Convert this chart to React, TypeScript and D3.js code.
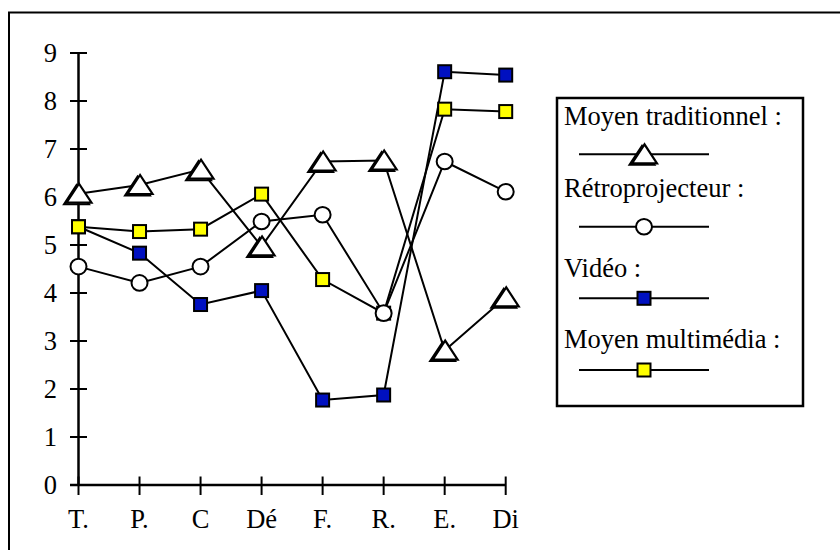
import React from "react";
import * as d3 from "d3";

const categories = ["T.", "P.", "C", "Dé", "F.", "R.", "E.", "Di"];
const yTicks = [0, 1, 2, 3, 4, 5, 6, 7, 8, 9];
const traditionnel = [6.07, 6.25, 6.57, 4.97, 6.74, 6.76, 2.8, 3.91];
const retroprojecteur = [4.55, 4.21, 4.55, 5.49, 5.63, 3.58, 6.74, 6.11];
const video = [5.38, 4.83, 3.76, 4.05, 1.77, 1.875, 8.61, 8.54];
const multimedia = [5.38, 5.28, 5.33, 6.06, 4.28, 3.58, 7.83, 7.78];
const legendLabels = ["Moyen traditionnel :", "Rétroprojecteur :", "Vidéo :", "Moyen multimédia :"];

const FONT = "'Liberation Serif', 'Times New Roman', serif";
const BLUE = "#0010c0";
const YELLOW = "#ffff00";

function Triangle({ cx, cy }: { cx: number; cy: number }) {
  const p = (dx: number, dy: number) =>
    `M${cx + dx},${cy - 10 + dy}L${cx - 12.5 + dx},${cy + 9 + dy}L${cx + 12.5 + dx},${cy + 9 + dy}Z`;
  return (
    <g>
      <path d={p(-2, 1.5)} fill="none" stroke="#000" strokeWidth={2} strokeLinejoin="miter" />
      <path d={p(0.5, 0)} fill="#fff" stroke="#000" strokeWidth={2.2} strokeLinejoin="miter" />
    </g>
  );
}

function Circle({ cx, cy }: { cx: number; cy: number }) {
  return <ellipse cx={cx} cy={cy} rx={8} ry={7.8} fill="#fff" stroke="#000" strokeWidth={2} />;
}

function Square({ cx, cy, fill }: { cx: number; cy: number; fill: string }) {
  return <rect x={cx - 6.5} y={cy - 6.5} width={13} height={13} fill={fill} stroke="#000" strokeWidth={2} />;
}

export default function App() {
  const x = d3.scalePoint<string>().domain(categories).range([78.5, 505.7]);
  const y = d3.scaleLinear().domain([0, 9]).range([485, 53]);
  const line = d3
    .line<number>()
    .x((_, i) => x(categories[i]) as number)
    .y((v) => y(v));

  const series = [
    { data: traditionnel, kind: "tri" },
    { data: video, kind: "blue" },
    { data: multimedia, kind: "yellow" },
    { data: retroprojecteur, kind: "circle" },
  ];

  const marker = (kind: string, cx: number, cy: number, key: string) => {
    if (kind === "tri") return <Triangle key={key} cx={cx} cy={cy} />;
    if (kind === "circle") return <Circle key={key} cx={cx} cy={cy} />;
    return <Square key={key} cx={cx} cy={cy} fill={kind === "blue" ? BLUE : YELLOW} />;
  };

  const legendKinds = ["tri", "circle", "blue", "yellow"];
  const legendTextY = [125, 196.7, 276.7, 348.3];
  const legendLineY = [154.3, 226.7, 298.3, 370];

  return (
    <svg
      width={840}
      height={550}
      style={{ position: "absolute", left: 0, top: 0, background: "#fff" }}
      fontFamily={FONT}
    >
      <rect x={0} y={0} width={840} height={550} fill="#fff" />
      <rect x={9} y={12.5} width={850} height={560} fill="none" stroke="#000" strokeWidth={2} />

      {/* axes */}
      <line x1={78.5} x2={78.5} y1={y(9)} y2={y(0)} stroke="#000" strokeWidth={2.5} />
      <line x1={70} x2={x(categories[categories.length - 1]) as number} y1={y(0)} y2={y(0)} stroke="#000" strokeWidth={2.5} />
      {yTicks.map((t) => (
        <g key={"yt" + t}>
          <line x1={70} x2={87} y1={y(t)} y2={y(t)} stroke="#000" strokeWidth={2} />
          <text x={57} y={y(t) + 9} textAnchor="end" fontSize={26.5} fill="#000">
            {t}
          </text>
        </g>
      ))}
      {categories.map((c) => (
        <g key={"xt" + c}>
          <line x1={x(c) as number} x2={x(c) as number} y1={476.5} y2={495} stroke="#000" strokeWidth={2} />
          <text x={x(c) as number} y={528} textAnchor="middle" fontSize={26.5} fill="#000">
            {c}
          </text>
        </g>
      ))}

      {/* lines */}
      {series.map((s) => (
        <path key={"l" + s.kind} d={line(s.data) as string} fill="none" stroke="#000" strokeWidth={2} />
      ))}
      {/* markers */}
      {series.map((s) =>
        s.data.map((v, i) => marker(s.kind, x(categories[i]) as number, y(v), s.kind + i))
      )}

      {/* legend */}
      <rect x={557} y={98} width={246} height={308} fill="#fff" stroke="#000" strokeWidth={2.5} />
      {legendLabels.map((lab, i) => (
        <g key={"lg" + i}>
          <text x={564} y={legendTextY[i]} fontSize={26.5} fill="#000">
            {lab}
          </text>
          <line x1={579} x2={709} y1={legendLineY[i]} y2={legendLineY[i]} stroke="#000" strokeWidth={2} />
          {marker(legendKinds[i], 644, legendLineY[i], "lm" + i)}
        </g>
      ))}
    </svg>
  );
}
